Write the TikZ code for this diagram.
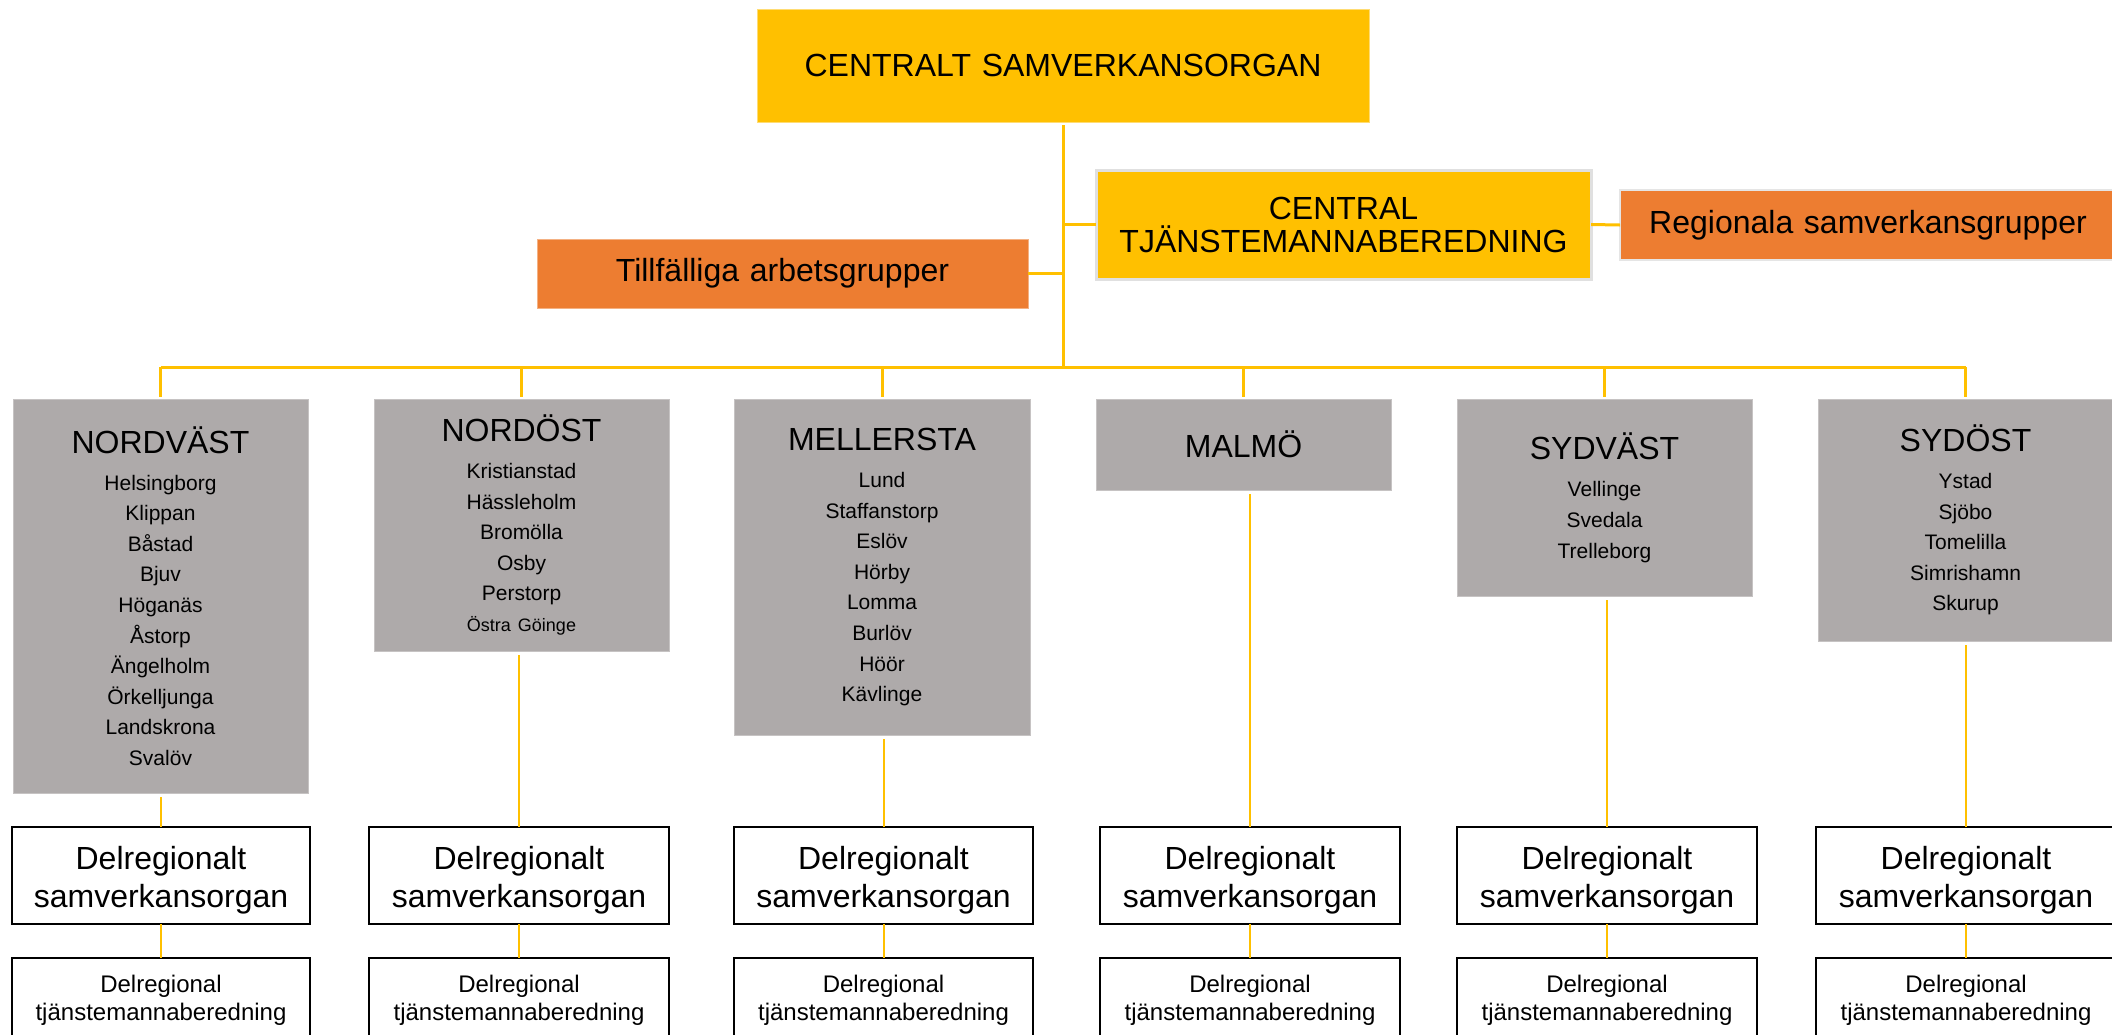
\documentclass[tikz,border=0pt]{standalone}
\usepackage{fontspec}
\setmainfont{Liberation Sans}
\definecolor{gold}{HTML}{FFC000}
\definecolor{orng}{HTML}{ED7D31}
\definecolor{grayb}{HTML}{AEAAAA}
\newcommand\rgttl{\fontsize{16}{15.3}\selectfont}
\newcommand\dsotext{\rule{0pt}{16.4pt}Delregionalt\\samverkansorgan}
\begin{document}
\begin{tikzpicture}[x=0.5pt,y=-0.5pt,
  box/.style={anchor=north west, inner sep=0pt, outer sep=0pt, align=center},
  ybox/.style={box, fill=gold, draw=gold!55!white, line width=0.5pt, font=\fontsize{16}{16.5}\selectfont},
  obox/.style={box, fill=orng, draw=black!10, line width=1pt, font=\fontsize{16}{16.5}\selectfont},
  gbox/.style={box, fill=grayb, draw=grayb!70!white, line width=0.5pt, font=\fontsize{10.5}{15.3}\selectfont},
  wbox/.style={box, fill=white, draw=black, line width=1.4pt},
  dso/.style={wbox, minimum height=48.5pt, font=\fontsize{16}{19}\selectfont},
  dtb/.style={wbox, minimum height=42pt, font=\fontsize{12}{14}\selectfont},
  mainline/.style={draw=gold, line width=1.5pt},
  colline/.style={draw=gold, line width=1pt}
]
\useasboundingbox (0,0) rectangle (2112,1034);

% top level
\node[ybox, minimum width=306pt, minimum height=56.5pt, text width=306pt] (cso) at (757,9) {CENTRALT SAMVERKANSORGAN};
\node[ybox, draw=black!12, line width=1.5pt, minimum width=247.5pt, minimum height=54.5pt, text width=247.5pt] (ctb) at (1096,170) {CENTRAL\\TJÄNSTEMANNABEREDNING};
\node[obox, minimum width=248pt, minimum height=35pt, text width=248pt] (reg) at (1620,190) {Regionala samverkansgrupper};
\node[obox, draw=orng!60!white, line width=0.5pt, minimum width=245.5pt, minimum height=34.5pt, text width=245.5pt] (till) at (537,239) {Tillfälliga arbetsgrupper};

% regions
\node[gbox, minimum width=147.5pt, minimum height=197pt, text width=147.5pt] (nv) at (13,399)
  {{\rgttl NORDVÄST}\\[3.2pt]Helsingborg\\Klippan\\Båstad\\Bjuv\\Höganäs\\Åstorp\\Ängelholm\\Örkelljunga\\Landskrona\\Svalöv};
\node[gbox, minimum width=147.5pt, minimum height=126pt, text width=147.5pt] (no) at (374,399)
  {{\rgttl NORDÖST}\\[3.2pt]Kristianstad\\Hässleholm\\Bromölla\\Osby\\Perstorp\\{\fontsize{9}{15.3}\selectfont Östra Göinge}};
\node[gbox, minimum width=148pt, minimum height=168pt, text width=148pt] (me) at (734,399)
  {{\rgttl MELLERSTA}\\[3.2pt]Lund\\Staffanstorp\\Eslöv\\Hörby\\Lomma\\Burlöv\\Höör\\Kävlinge};
\node[gbox, minimum width=147.5pt, minimum height=45.5pt, text width=147.5pt] (ma) at (1096,399)
  {{\rgttl MALMÖ}};
\node[gbox, minimum width=147.5pt, minimum height=98.5pt, text width=147.5pt] (sv) at (1457,399)
  {{\rgttl SYDVÄST}\\[3.4pt]Vellinge\\Svedala\\Trelleborg};
\node[gbox, minimum width=147.5pt, minimum height=121pt, text width=147.5pt] (so) at (1818,399)
  {{\rgttl SYDÖST}\\[3.2pt]Ystad\\Sjöbo\\Tomelilla\\Simrishamn\\Skurup};

% delregionalt samverkansorgan
\node[dso, minimum width=149pt, text width=149pt] (d1) at (12,827) {\dsotext};
\node[dso, minimum width=150pt, text width=150pt] (d2) at (369,827) {\dsotext};
\node[dso, minimum width=149.5pt, text width=149.5pt] (d3) at (734,827) {\dsotext};
\node[dso, minimum width=150pt, text width=150pt] (d4) at (1100,827) {\dsotext};
\node[dso, minimum width=150pt, text width=150pt] (d5) at (1457,827) {\dsotext};
\node[dso, minimum width=150pt, text width=150pt] (d6) at (1816,827) {\dsotext};

% delregional tjänstemannaberedning
\node[dtb, minimum width=149pt, text width=149pt] (t1) at (12,958) {Delregional\\tjänstemannaberedning};
\node[dtb, minimum width=150pt, text width=150pt] (t2) at (369,958) {Delregional\\tjänstemannaberedning};
\node[dtb, minimum width=149.5pt, text width=149.5pt] (t3) at (734,958) {Delregional\\tjänstemannaberedning};
\node[dtb, minimum width=150pt, text width=150pt] (t4) at (1100,958) {Delregional\\tjänstemannaberedning};
\node[dtb, minimum width=150pt, text width=150pt] (t5) at (1457,958) {Delregional\\tjänstemannaberedning};
\node[dtb, minimum width=150pt, text width=150pt] (t6) at (1816,958) {Delregional\\tjänstemannaberedning};

% connectors
\coordinate (bus) at (1063,367);
\draw[mainline] ([yshift=-1.5pt]cso.south) -- (cso.south |- bus);
\draw[mainline] (nv.north |- bus) -- (so.north |- bus);
\foreach \n in {nv,no,me,ma,sv,so}{
  \draw[mainline] (\n.north |- bus) -- ([yshift=1pt]\n.north);
}
\draw[mainline] (ctb.west) -- (ctb.west -| cso.south);
\draw[mainline] (ctb.east) -- (reg.west);
\draw[mainline] (till.east) -- (till.east -| cso.south);

\foreach \n/\d/\t in {nv/d1/t1,no/d2/t2,me/d3/t3,ma/d4/t4,sv/d5/t5,so/d6/t6}{
  \draw[colline] (\d.north) -- ([yshift=-2pt]\d.north |- \n.south);
  \draw[colline] (\d.south) -- (\t.north);
}
\end{tikzpicture}
\end{document}
